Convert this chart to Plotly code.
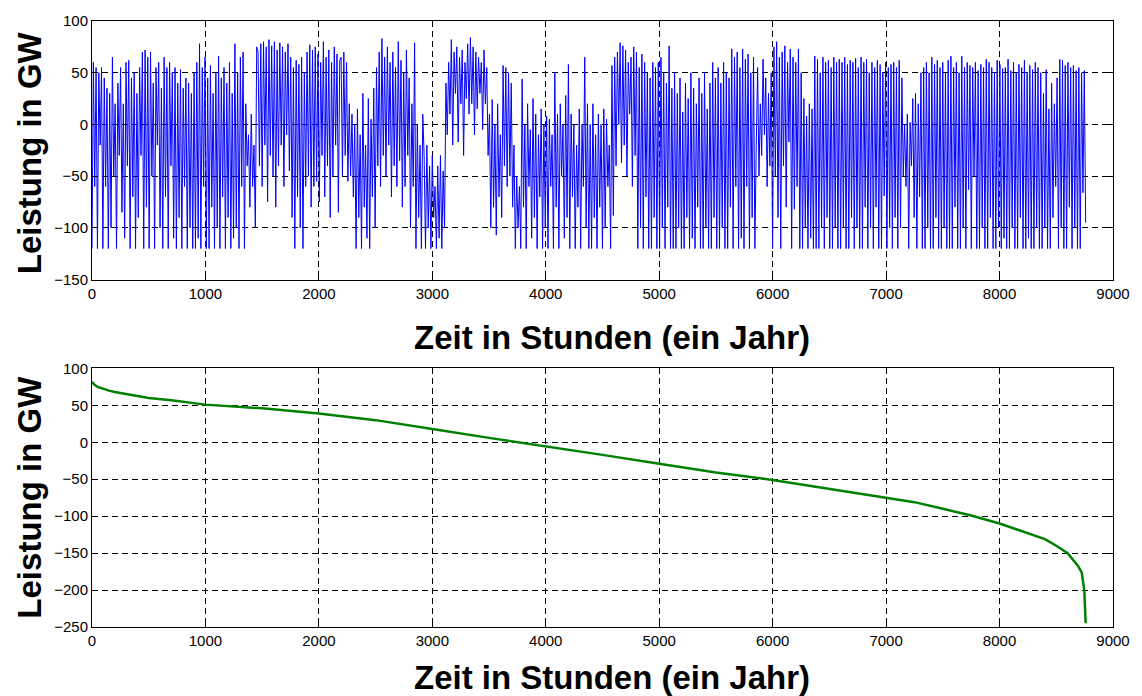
import numpy as np
import plotly.graph_objects as go

# ---- Top chart: hourly residual power (GW), read at ~12 h resolution, month by month ----
power_m01 = [-120, 60, -60, 55, -120, 50, -20, 55, -120, 45, -60, 35, -120, 30, -100, 65, -50, 20, -120, 40,
             -30, 55, -85, 20, -110, 60, -40, 62, -120, 45, -70, 50, -120, 30, -90, 55, -30, 70, -120, 72,
             -80, 65, -120, 70, -50, 40, -120, 55, -20, 60, -100, 35, -120, 65, -70, 55, -120, 60, -40, 50, -110]
power_m02 = [55, -120, 40, -90, 53, -120, 35, -60, 45, -120, 40, -100, 30, -120, 50, -120, 60, -110, 78, -120,
             55, -60, 65, -120, 45, -120, 57, -80, 30, -120, 50, -100, 66, -120, 45, -70, 55, -120, 40, -90,
             60, -120, 30, -110, 78, -100, 50, -120, 65, -60, 70, -120, 20, -40, -10, -80, 10, -60, -20, -100, 75]
power_m03 = [70, -40, 78, -60, 80, -20, 75, -75, 82, -30, 76, -50, 80, -80, 72, -40, 79, -20, 75, -60,
             70, -10, 78, -45, 65, -90, 55, -120, 62, -70, 58, -100, 65, -120, 50, -60, 70, -50, 77, -80,
             72, -60, 75, -55, 68, -75, 60, -30, 80, -70, 65, -40, 72, -90, 60, -50, 75, -20, 68, -85, 62]
power_m04 = [65, -50, 70, -30, 60, -55, 20, -50, 10, -70, 0, -120, 15, -90, -10, -120, 30, -80, -20, -110,
             25, -120, 5, -70, 35, -100, 55, -40, 70, -60, 83, -30, 65, -50, 75, -20, 60, -70, 70, -40,
             55, -60, 80, -35, 62, -80, 50, -60, 72, -30, 45, -100, 20, -60, 79, -120, 0, -90, -20, -120, 10]
power_m05 = [-30, -120, -20, -100, -40, -120, -30, -90, -60, -120, -40, -110, -30, -120, -45, -100, 40, -10, 60, 10,
             82, -20, 70, 30, 75, -17, 65, 20, 72, -30, 60, 25, 78, 10, 84, 20, 75, -10, 70, 15,
             65, 30, 60, -5, 72, 20, 55, -30, 10, -100, 24, -80, 0, -107, 20, -70, -10, -90, 57, -40, 55]
power_m06 = [-60, 50, -50, 40, -80, -20, -120, -50, -100, -60, -120, 44, -80, 0, -120, 20, -60, -5, -110, 25,
             -90, 10, -120, -10, -70, 15, -120, 0, -100, 8, -120, 5, -60, -10, -120, 50, -80, 10, -120, 20,
             -50, 0, -110, 28, -90, 58, -120, 10, -70, 0, -120, -20, -80, 15, -120, 0, -60, 65, -100, 20, -120]
power_m07 = [0, -120, 20, -90, -10, -120, 10, -80, 0, -120, 15, -100, 5, -60, -20, -120, 57, -88, 65, -40,
             70, 0, 79, -37, 76, -20, 72, -50, 60, 10, 65, -60, 75, -30, 70, -120, 55, -100, 68, -120,
             60, -70, 50, -120, 45, -120, 60, -90, 55, -120, 60, -120, 65, -100, 50, -120, 40, -80, 76, -120, 35]
power_m08 = [-120, 50, -120, 30, -100, 45, -120, 12, -120, 40, -90, 25, -120, 50, -110, 35, -120, 20, -80, 45,
             -120, 30, -120, 50, -100, 15, -120, 40, -120, 60, -90, 45, -120, 55, -120, 40, -100, 60, -120, 50,
             -120, 45, -80, 73, -120, 65, -60, 70, -120, 55, -110, 73, -120, 63, -60, 68, -120, 50, -90, 65, -120]
power_m09 = [-20, 55, -50, 20, -30, 63, -10, 45, -60, 30, -40, 50, -120, 75, -50, 80, -90, 65, -120, 70,
             -40, 76, -80, 60, -17, 73, -120, 65, -82, 60, -60, 73, -120, 50, -120, 25, -100, 8, -120, 20,
             -110, 15, -120, 66, -120, 63, -120, 50, -100, 65, -120, 60, -90, 62, -120, 55, -120, 65, -100, 60, -120]
power_m10 = [63, -120, 60, -100, 65, -120, 58, -120, 62, -90, 60, -120, 64, -100, 55, -120, 65, -120, 60, -80,
             63, -120, 50, -100, 60, -120, 55, -80, 62, -120, 58, -120, 50, -69, 60, -120, 55, -100, 58, -120,
             60, -90, 55, -120, 62, -100, 45, -50, 0, -60, 10, -120, 2, -40, 25, -90, 30, -120, 20, -70, 50]
power_m11 = [-120, 55, -120, 60, -100, 50, -120, 65, -120, 58, -90, 62, -120, 55, -120, 60, -100, 50, -120, 62,
             -120, 66, -120, 55, -80, 60, -120, 50, -120, 66, -100, 55, -120, 60, -63, 57, -120, 55, -50, 60,
             -120, 52, -120, 58, -100, 55, -120, 63, -120, 60, -90, 55, -120, 50, -120, 62, -100, 58, -120, 54, -110]
power_m12 = [55, -120, 63, -120, 52, -100, 60, -120, 50, -120, 58, -90, 55, -120, 62, -120, 50, -110, 57, -120,
             53, -120, 60, -100, 55, -120, 50, -120, 30, -100, 53, -120, 15, -120, 40, -90, 20, -60, 45, -120,
             63, -100, 62, -120, 57, -120, 60, -80, 55, -120, 57, -100, 52, -120, 55, -120, 50, -66, 52, -95]

# ---- Bottom chart: sorted duration curve (GW), read at selected hours ----
dur_hours = [0, 20, 50, 100, 150, 200, 300, 400, 500, 700, 1000, 1500, 2000, 2500, 2700, 3000, 3500, 4000, 4500,
             5000, 5500, 6000, 6500, 7000, 7250, 7500, 7750, 8000, 8200, 8400, 8500, 8600, 8690, 8724, 8747, 8753, 8759]
dur_values = [82, 78, 75, 72, 70, 68, 65, 62, 60, 57, 51, 46, 39, 30, 25, 18, 6, -5, -17,
              -29, -41, -51, -63, -75, -81, -90, -99, -110, -120, -131, -140, -150, -167, -176, -200, -224, -245]

x_ticks = [0, 1000, 2000, 3000, 4000, 5000, 6000, 7000, 8000, 9000]
x_title = "Zeit in Stunden (ein Jahr)"
y_title = "Leistung in GW"

power_top = (power_m01 + power_m02 + power_m03 + power_m04 + power_m05 + power_m06 +
             power_m07 + power_m08 + power_m09 + power_m10 + power_m11 + power_m12)
hours_top = np.linspace(0, 8759, len(power_top))

FONT = "Liberation Sans, Arial, sans-serif"

fig = go.Figure()
fig.add_trace(go.Scatter(x=hours_top, y=power_top, mode="lines",
                         line=dict(color="#0000FF", width=1), xaxis="x", yaxis="y",
                         hoverinfo="skip"))
fig.add_trace(go.Scatter(x=dur_hours, y=dur_values, mode="lines",
                         line=dict(color="#008000", width=2.5), xaxis="x2", yaxis="y2",
                         hoverinfo="skip"))

axis_common = dict(showline=True, linecolor="black", linewidth=1, mirror="ticks",
                   ticks="inside", ticklen=5, tickcolor="black",
                   showgrid=True, gridcolor="black", gridwidth=1, griddash="6px,4px",
                   zeroline=False, tickfont=dict(family=FONT, size=15, color="black"))

top_bottom = (627 - 279) / 607
bot_top = (627 - 368) / 607

fig.update_layout(
    width=1142, height=696,
    margin=dict(l=92, r=22, t=20, b=69),
    paper_bgcolor="white", plot_bgcolor="white",
    showlegend=False,
    xaxis=dict(domain=[0, 1], anchor="y", range=[0, 9000], tickvals=x_ticks, **axis_common),
    yaxis=dict(domain=[top_bottom, 1], anchor="x", range=[-150, 100], dtick=50, **axis_common),
    xaxis2=dict(domain=[0, 1], anchor="y2", range=[0, 9000], tickvals=x_ticks, **axis_common),
    yaxis2=dict(domain=[0, bot_top], anchor="x2", range=[-250, 100], dtick=50, **axis_common),
)

def px_x(p):
    return (p - 92) / 1028

def px_y(p):
    return (627 - p) / 607

title_font = dict(family=FONT, size=33, color="black")
annots = [
    dict(text="<b>" + x_title + "</b>", x=px_x(616), y=px_y(337)),
    dict(text="<b>" + x_title + "</b>", x=px_x(616), y=px_y(678)),
    dict(text="<b>" + y_title + "</b>", x=px_x(29), y=px_y(152), textangle=-90),
    dict(text="<b>" + y_title + "</b>", x=px_x(29), y=px_y(497), textangle=-90),
]
for a in annots:
    fig.add_annotation(xref="paper", yref="paper", xanchor="center", yanchor="middle",
                       showarrow=False, font=title_font, **a)

fig.write_html("out.html")
